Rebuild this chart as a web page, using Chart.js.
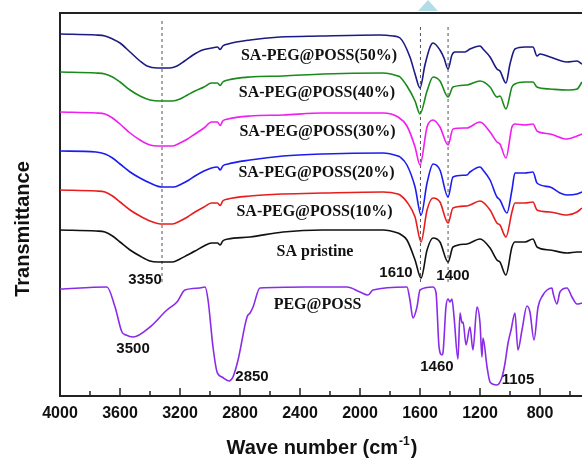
<!DOCTYPE html>
<html>
<head>
<meta charset="utf-8">
<script src="https://cdn.jsdelivr.net/npm/chart.js@4.4.0/dist/chart.umd.min.js"></script>
<style>
  html, body { margin: 0; padding: 0; background: #fff; overflow: hidden; }
  #wrap { position: relative; width: 612px; height: 458px; }
</style>
</head>
<body>
<div id="wrap"><canvas id="ftir"></canvas></div>
<script>
// FTIR spectra, [wave number, stacked transmittance (a.u.)]
const sa50 = [[4000,362],[3760,361],[3700,360],[3650,357],[3600,353],[3533,344],[3467,335],[3420,330],[3350,328],[3270,328],[3220,330],[3170,335],[3113,341],[3050,346],[2990,348],[2950,349],[2932,346.5],[2915,350],[2880,352],[2733,356],[2533,359],[2267,360],[1867,361],[1780,360],[1733,358],[1667,339],[1633,322],[1600,308],[1567,331],[1533,349],[1513,353],[1467,346],[1440,338],[1413,327],[1387,341],[1367,344],[1300,344],[1267,347],[1200,350],[1180,347],[1133,339],[1087,327],[1067,325],[1027,313],[1000,332],[967,347],[900,349],[847,349],[820,340],[800,342],[733,339],[620,334],[553,335],[520,332]];
const sa40 = [[4000,324],[3760,323],[3700,322],[3650,319],[3600,314],[3533,306],[3467,300],[3400,296],[3330,295],[3250,295],[3200,297],[3150,301],[3100,305],[3040,309],[2990,313],[2950,313],[2932,310.5],[2915,314],[2880,316],[2733,319],[2513,320],[2247,322],[1847,323],[1747,320],[1733,319],[1687,310],[1633,295],[1600,282],[1553,305],[1513,319],[1467,315],[1413,299],[1380,309],[1287,311],[1200,315],[1133,309],[1087,299],[1067,300],[1027,287],[987,309],[967,312],[900,314],[847,314],[820,309],[733,307],[620,306],[553,307],[520,314]];
const sa30 = [[4000,284],[3760,283],[3700,282],[3650,278],[3600,272],[3533,263],[3467,256],[3400,251],[3350,250],[3250,250],[3200,253],[3150,257],[3100,262],[3040,268],[2990,274],[2950,274],[2932,270.5],[2915,275],[2880,277],[2733,280],[2513,281],[2247,283],[1847,283],[1747,279],[1687,270],[1633,249],[1600,231],[1553,269],[1513,276],[1467,269],[1413,251],[1380,267],[1287,268],[1200,274],[1133,264],[1087,254],[1067,252],[1027,238],[987,269],[967,272],[900,271],[847,272],[820,265],[733,262],[620,257],[553,260],[520,262]];
const sa20 = [[4000,245],[3760,244],[3700,242],[3650,238],[3600,232],[3533,224],[3467,218],[3400,213],[3320,209],[3240,209],[3190,212],[3140,216],[3100,220],[3040,225],[2990,228],[2950,229],[2932,226],[2915,230],[2880,232],[2733,236],[2513,240],[2247,242],[1847,243],[1747,240],[1733,239],[1687,231],[1633,209],[1593,181],[1553,213],[1513,232],[1467,226],[1413,199],[1380,219],[1287,221],[1267,224],[1200,229],[1180,226],[1133,216],[1087,199],[1067,196],[1020,183],[987,206],[967,223],[900,223],[847,224],[820,213],[733,209],[667,203],[620,201],[553,202],[520,204]];
const sa10 = [[4000,206],[3760,205],[3700,204],[3650,200],[3600,194],[3533,186],[3467,180],[3400,175],[3330,172],[3250,172],[3200,175],[3150,179],[3100,184],[3040,189],[2990,193],[2950,193],[2932,190.5],[2915,195],[2880,197],[2733,200],[2513,202],[2247,203],[1847,204],[1747,202],[1733,201],[1687,194],[1633,179],[1593,154],[1553,186],[1513,198],[1467,194],[1413,173],[1380,188],[1287,190],[1200,195],[1133,186],[1087,173],[1067,171],[1027,159],[987,184],[967,193],[900,193],[847,194],[820,186],[733,184],[620,181],[553,184],[520,188]];
const saPristine = [[4000,166],[3760,165],[3700,164],[3650,160],[3600,154],[3533,146],[3467,140],[3400,135],[3350,134],[3250,134],[3200,137],[3150,141],[3100,145],[3040,150],[2990,153],[2950,153],[2932,151],[2915,155],[2880,157],[2733,159],[2513,164],[2247,166],[1847,166],[1747,163],[1733,162],[1687,156],[1633,136],[1593,118],[1553,146],[1513,158],[1467,154],[1413,134],[1380,149],[1287,152],[1200,157],[1133,148],[1087,136],[1067,134],[1027,121],[987,149],[967,154],[900,154],[847,157],[820,149],[733,146],[620,143],[553,144],[520,144]];
const pegPoss = [[4000,107],[3687,109],[3633,89],[3587,64],[3560,61],[3513,59],[3400,69],[3287,86],[3220,94],[3167,106],[3067,108],[3033,109],[3013,96],[2980,49],[2953,24],[2920,19],[2873,15],[2847,19],[2813,36],[2753,79],[2733,83],[2713,89],[2667,108],[2353,109],[2087,109],[2000,104],[1947,101],[1913,106],[1687,109],[1667,96],[1647,78],[1620,89],[1600,106],[1513,109],[1493,103],[1473,49],[1453,41],[1447,43],[1427,89],[1413,97],[1400,94],[1387,97],[1373,79],[1347,37],[1333,83],[1320,73],[1313,74],[1293,51],[1267,69],[1247,46],[1220,89],[1200,73],[1187,39],[1180,58],[1153,29],[1133,14],[1087,11],[1053,19],[1033,33],[1013,53],[993,66],[967,83],[947,46],[920,66],[887,90],[867,84],[840,56],[813,89],[780,101],[753,106],[720,108],[713,103],[687,92],[667,104],[620,108],[587,99],[553,92],[520,93]];

const seriesLabels = ['SA-PEG@POSS(50%)', 'SA-PEG@POSS(40%)', 'SA-PEG@POSS(30%)', 'SA-PEG@POSS(20%)', 'SA-PEG@POSS(10%)', 'SA pristine', 'PEG@POSS'];
const seriesColors = ['#1b1b84', '#1a8a1a', '#f01ef0', '#1c1cf0', '#e81e1e', '#111111', '#8a2be8'];

// dashed guides: wave number, top, bottom
const guideWave = [3320, 1597, 1413];
const guideTop = [378, 372, 372];
const guideBottom = [114, 114, 114];

// text placed by data coordinates
const curveText = [[2273,340],[2287,303],[2283,264],[2290,223],[2303,184],[2300,144],[2283,91]];
const peakText = ['3350', '1610', '1400', '3500', '2850', '1460', '1105'];
const peakPos = [[3433,116],[1760,123],[1380,120],[3513,47],[2720,19],[1487,29],[947,16]];

const curves = [sa50, sa40, sa30, sa20, sa10, saPristine, pegPoss];

const datasets = curves.map((c, i) => ({
    label: seriesLabels[i],
    data: c.map(p => ({ x: p[0], y: p[1] })),
    borderColor: seriesColors[i],
    borderWidth: 1.6,
    pointRadius: 0,
    fill: false,
    cubicInterpolationMode: 'monotone'
}));

guideWave.forEach((w, i) => {
    datasets.push({
        label: 'guide' + i,
        data: [{ x: w, y: guideBottom[i] }, { x: w, y: guideTop[i] }],
        borderColor: '#555',
        borderWidth: 1,
        borderDash: [3, 3],
        pointRadius: 0,
        fill: false
    });
});

const decor = {
    id: 'decor',
    afterDraw(chart) {
        const ctx = chart.ctx;
        const area = chart.chartArea;
        const xs = chart.scales.x, ys = chart.scales.y;
        ctx.save();

        // top frame line
        ctx.strokeStyle = '#222';
        ctx.lineWidth = 2;
        ctx.beginPath();
        ctx.moveTo(area.left - 1, area.top);
        ctx.lineTo(area.right, area.top);
        ctx.stroke();

        // inward ticks, major every 400, minor every 200
        ctx.lineWidth = 1.5;
        for (let v = xs.min; v <= xs.max; v += 200) {
            const px = xs.getPixelForValue(v);
            const len = v % 400 === 0 ? 8 : 5;
            ctx.beginPath();
            ctx.moveTo(px, area.bottom);
            ctx.lineTo(px, area.bottom - len);
            ctx.stroke();
        }

        ctx.fillStyle = '#111';
        ctx.textBaseline = 'middle';
        ctx.textAlign = 'center';

        ctx.font = 'bold 16px "Liberation Serif", "Times New Roman", serif';
        curveText.forEach((p, i) => {
            ctx.fillText(seriesLabels[i], xs.getPixelForValue(p[0]), ys.getPixelForValue(p[1]));
        });

        ctx.font = 'bold 15px "Liberation Sans", Arial, sans-serif';
        peakPos.forEach((p, i) => {
            ctx.fillText(peakText[i], xs.getPixelForValue(p[0]), ys.getPixelForValue(p[1]));
        });

        // y title
        ctx.save();
        ctx.font = 'bold 20px "Liberation Sans", Arial, sans-serif';
        ctx.translate(area.left - 31, area.top + 216);
        ctx.rotate(-Math.PI / 2);
        ctx.textBaseline = 'alphabetic';
        ctx.fillText('Transmittance', 0, 0);
        ctx.restore();

        // x title with superscript
        const main = 'Wave number (cm', sup = '-1', close = ')';
        ctx.textAlign = 'left';
        ctx.textBaseline = 'alphabetic';
        ctx.font = 'bold 20px "Liberation Sans", Arial, sans-serif';
        const w1 = ctx.measureText(main).width, w3 = ctx.measureText(close).width;
        ctx.font = 'bold 12px "Liberation Sans", Arial, sans-serif';
        const w2 = ctx.measureText(sup).width;
        let x0 = area.left + 261 - (w1 + w2 + w3) / 2;
        const base = area.bottom + 58;
        ctx.font = 'bold 20px "Liberation Sans", Arial, sans-serif';
        ctx.fillText(main, x0, base);
        ctx.font = 'bold 12px "Liberation Sans", Arial, sans-serif';
        ctx.fillText(sup, x0 + w1 + 1, base - 9);
        ctx.font = 'bold 20px "Liberation Sans", Arial, sans-serif';
        ctx.fillText(close, x0 + w1 + w2 + 2, base);

        // small marker at top
        ctx.fillStyle = '#b3dde6';
        ctx.beginPath();
        ctx.moveTo(418, 11);
        ctx.lineTo(428, 0);
        ctx.lineTo(438, 11);
        ctx.closePath();
        ctx.fill();

        ctx.restore();
    }
};

new Chart(document.getElementById('ftir'), {
    type: 'line',
    data: { datasets: datasets },
    options: {
        responsive: true,
        maintainAspectRatio: false,
        animation: false,
        layout: { padding: { top: 13, right: 12, left: 0, bottom: 0 } },
        plugins: { legend: { display: false }, tooltip: { enabled: false } },
        scales: {
            x: {
                type: 'linear',
                reverse: true,
                min: 400,
                max: 4000,
                grid: { display: false, drawTicks: false },
                border: { display: true, color: '#222', width: 2 },
                ticks: {
                    stepSize: 400,
                    autoSkip: false,
                    maxRotation: 0,
                    padding: 8,
                    color: '#111',
                    font: { family: '"Liberation Sans", Arial, sans-serif', size: 16, weight: 'bold' },
                    callback: v => String(v)
                },
                afterFit(s) { s.height = 62; s.paddingLeft = 0; s.paddingRight = 0; }
            },
            y: {
                min: 0,
                max: 383,
                grid: { display: false, drawTicks: false },
                border: { display: true, color: '#222', width: 2 },
                ticks: { display: false },
                afterFit(s) { s.width = 60; }
            }
        }
    },
    plugins: [decor]
});
</script>
</body>
</html>
